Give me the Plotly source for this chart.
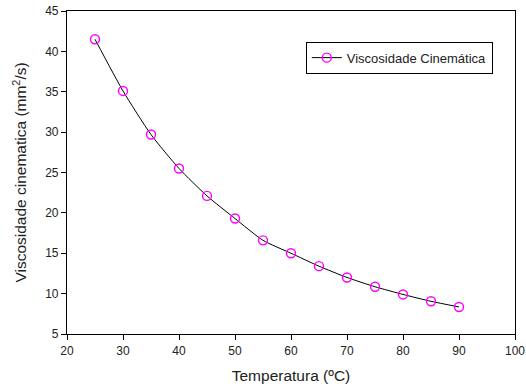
import plotly.graph_objects as go

# Kinematic viscosity vs temperature
temperatura = [25, 30, 35, 40, 45, 50, 55, 60, 65, 70, 75, 80, 85, 90]
viscosidade = [41.5, 35.1, 29.7, 25.5, 22.1, 19.3, 16.6, 15.0, 13.4, 12.0, 10.85, 9.9, 9.05, 8.35]

x_ticks = [20, 30, 40, 50, 60, 70, 80, 90, 100]
y_ticks = [5, 10, 15, 20, 25, 30, 35, 40, 45]

fig = go.Figure()
fig.add_trace(go.Scatter(
    x=temperatura, y=viscosidade,
    mode="lines+markers",
    name="Viscosidade Cinemática",
    line=dict(color="black", width=1, shape="spline", smoothing=0.6),
    marker=dict(symbol="circle-open", size=9, color="#ff00ff", line=dict(width=1.4, color="#ff00ff")),
))

axis_common = dict(
    showline=True, linecolor="black", linewidth=1.2, mirror=True,
    ticks="outside", ticklen=5, tickwidth=1, tickcolor="black",
    showgrid=False, zeroline=False, automargin=False,
    tickfont=dict(family="Liberation Sans, Arial", size=12, color="#222"),
)

fig.update_layout(
    width=526, height=391,
    margin=dict(l=67, r=11, t=11, b=57),
    paper_bgcolor="white", plot_bgcolor="white",
    showlegend=True,
    legend=dict(
        x=0.533, y=0.905, xanchor="left", yanchor="top",
        bordercolor="black", borderwidth=1, bgcolor="white",
        itemwidth=30,
        font=dict(family="Liberation Sans, Arial", size=13, color="#222"),
    ),
    xaxis=dict(range=[20, 100], tickvals=x_ticks,
               title=dict(text="Temperatura (ºC)", standoff=13,
                          font=dict(family="Liberation Sans, Arial", size=15.5, color="#222")),
               **axis_common),
    yaxis=dict(range=[5, 45], tickvals=y_ticks,
               title=dict(text="Viscosidade cinematica (mm<sup>2</sup>/s)", standoff=14,
                          font=dict(family="Liberation Sans, Arial", size=15.5, color="#222")),
               **axis_common),
)

fig.write_html("out.html")
